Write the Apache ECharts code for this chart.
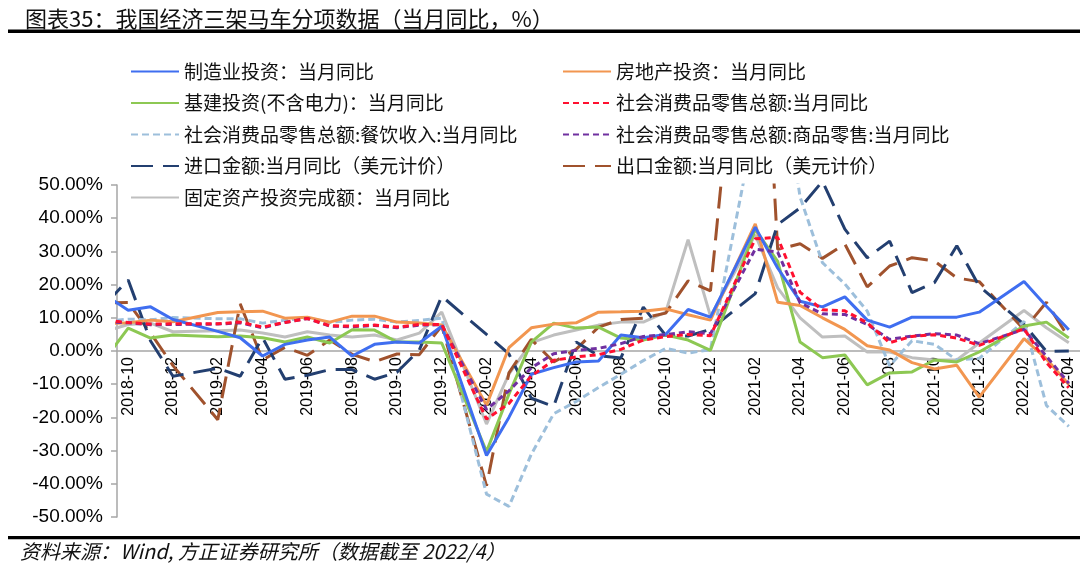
<!DOCTYPE html>
<html>
<head>
<meta charset="utf-8">
<title>我国经济三架马车分项数据</title>
<script src="https://cdn.jsdelivr.net/npm/echarts@6/dist/echarts.min.js"></script>
<style>
  html, body { margin: 0; padding: 0; background: #fff; }
  #chart { width: 1080px; height: 576px; }
</style>
</head>
<body>
<div id="chart"></div>
<script>
// first month (2018-09) sits left of the y axis and is only seen as a clipped stub
var months = ['2018-09', '2018-10', '2018-11', '2018-12',
  '2019-01', '2019-02', '2019-03', '2019-04', '2019-05', '2019-06', '2019-07', '2019-08', '2019-09', '2019-10', '2019-11', '2019-12',
  '2020-01', '2020-02', '2020-03', '2020-04', '2020-05', '2020-06', '2020-07', '2020-08', '2020-09', '2020-10', '2020-11', '2020-12',
  '2021-01', '2021-02', '2021-03', '2021-04', '2021-05', '2021-06', '2021-07', '2021-08', '2021-09', '2021-10', '2021-11', '2021-12',
  '2022-01', '2022-02', '2022-03', '2022-04'];

var manufacturing = [16.7, 12.3, 13.3, 9.5,
  null, 5.9, 4.0, -1.5, 2.0, 3.3, 4.2, -1.5, 2.0, 2.7, 2.4, 7.5,
  null, -31.5, -20.0, -7.0, -5.0, -3.3, -3.0, 4.8, 4.0, 5.0, 12.5, 10.2,
  null, 37.3, 25.0, 15.0, 13.3, 16.3, 9.3, 7.2, 10.2, 10.2, 10.2, 11.7,
  null, 20.9, 13.5, 6.4];
var realEstate = [8.3, 8.5, 9.3, 8.8,
  null, 11.6, 11.8, 12.0, 9.9, 10.2, 8.7, 10.5, 10.5, 8.7, 8.4, 7.8,
  null, -16.3, 1.0, 7.0, 8.1, 8.5, 11.7, 11.8, 12.0, 12.7, 10.9, 9.3,
  null, 38.3, 14.7, 13.7, 10.0, 6.5, 1.6, 0.3, -3.5, -5.4, -4.3, -13.9,
  null, 3.7, -2.4, -10.1];
var infra = [-2.1, 6.9, 3.9, 4.8,
  null, 4.3, 4.5, 4.0, 2.7, 4.2, 2.4, 6.4, 6.3, 2.7, 2.7, 2.4,
  null, -30.3, -13.0, 2.7, 8.4, 6.9, 7.2, 3.9, 3.3, 4.8, 3.3, 0.2,
  null, 36.6, 27.0, 2.7, -2.0, -1.2, -10.2, -6.6, -6.3, -2.7, -3.3, -0.3,
  null, 7.5, 8.7, 3.9];
var retailTotal = [9.2, 8.6, 8.1, 8.2,
  null, 8.2, 8.7, 7.2, 8.6, 9.8, 7.6, 7.5, 7.8, 7.2, 8.0, 8.0,
  null, -20.5, -15.8, -7.5, -2.8, -1.8, -1.1, 0.5, 3.3, 4.3, 5.0, 4.6,
  null, 33.8, 34.2, 17.7, 12.4, 12.1, 8.5, 2.5, 4.4, 4.9, 3.9, 1.7,
  null, 6.7, -3.5, -11.1];
var catering = [9.0, 9.6, 9.4, 10.1,
  null, 9.7, 9.7, 8.4, 9.3, 10.0, 8.6, 9.3, 9.6, 8.7, 9.2, 9.9,
  null, -43.1, -46.8, -31.1, -18.9, -15.2, -11.0, -7.0, -2.9, 0.8, -0.6, 0.4,
  null, 68.9, 91.6, 46.4, 26.6, 20.2, 12.0, -4.5, 3.1, 2.0, -2.7, -2.2,
  null, 8.9, -16.4, -22.7];
var retailGoods = [8.8, 8.5, 7.9, 8.0,
  null, 8.1, 8.5, 7.0, 8.6, 9.8, 7.5, 7.3, 7.7, 7.0, 7.8, 7.9,
  null, -17.6, -12.0, -5.1, -0.8, 0.2, 0.8, 2.2, 4.4, 4.9, 5.8, 5.2,
  null, 30.7, 29.8, 14.5, 11.2, 11.0, 8.0, 3.5, 4.5, 5.2, 4.8, 2.2,
  null, 6.5, -1.6, -9.7];
var imports = [14.3, 21.4, 3.0, -7.6,
  null, -5.2, -7.6, 4.0, -8.5, -7.3, -5.6, -5.6, -8.5, -6.4, 0.3, 16.5,
  null, 5.0, -0.9, -14.2, -16.7, 2.7, -1.4, -2.1, 13.2, 4.7, 4.5, 6.5,
  null, 17.3, 38.1, 43.1, 51.1, 36.7, 28.1, 33.1, 17.6, 20.6, 31.7, 19.5,
  null, 8.0, -0.1, 0.0];
var exports = [14.5, 14.6, 5.4, -4.4,
  null, -20.7, 14.2, -2.7, 1.1, -1.3, 3.3, -1.0, -3.2, -0.9, -1.1, 7.6,
  null, -40.6, -6.6, 3.5, -3.3, 0.5, 7.2, 9.5, 9.9, 11.4, 21.1, 18.1,
  null, 154.9, 30.6, 32.3, 27.9, 32.2, 19.3, 25.6, 28.1, 27.1, 22.0, 20.9,
  null, 6.5, 14.7, 3.9];
var fixedAsset = [6.0, 8.0, 8.4, 5.8,
  null, 6.1, 6.3, 5.4, 4.2, 5.8, 4.8, 4.2, 4.8, 3.3, 5.4, 11.7,
  null, -22.0, -7.0, 2.5, 4.8, 6.3, 7.8, 8.7, 8.7, 11.7, 33.5, 10.5,
  null, 35.0, 19.0, 10.0, 4.2, 4.5, -0.3, -0.3, -2.0, -2.7, -2.7, 2.4,
  null, 12.2, 7.0, 2.5];

var yTicks = [-50, -40, -30, -20, -10, 0, 10, 20, 30, 40, 50];

var names = {
  mfg: '制造业投资：当月同比',
  re: '房地产投资：当月同比',
  infra: '基建投资(不含电力)：当月同比',
  retail: '社会消费品零售总额:当月同比',
  cater: '社会消费品零售总额:餐饮收入:当月同比',
  goods: '社会消费品零售总额:商品零售:当月同比',
  imp: '进口金额:当月同比（美元计价）',
  exp: '出口金额:当月同比（美元计价）',
  fai: '固定资产投资完成额：当月同比'
};

function pts(arr) {
  return arr.map(function (v, i) { return [i, v]; });
}

function line(name, arr, color, dash, z) {
  return {
    name: name,
    type: 'line',
    xAxisIndex: 1,
    data: pts(arr),
    symbol: 'none',
    connectNulls: true,
    clip: true,
    z: z,
    lineStyle: { color: color, width: 3, type: dash || 'solid' },
    itemStyle: { color: color, opacity: 0 }
  };
}

var chart = echarts.init(document.getElementById('chart'), null, { renderer: 'canvas' });

var labelFont = '"Liberation Sans", Arial, sans-serif';
var cjkFont = '"Noto Sans CJK SC", sans-serif';
var axisGray = '#A6A6A6';

var gridTop = 185, gridHeight = 332;

var legendText = { fontSize: 19, color: '#111', fontFamily: cjkFont, lineHeight: 19 };

var option = {
  animation: false,
  backgroundColor: '#fff',
  title: {
    text: '图表35：我国经济三架马车分项数据（当月同比，%）',
    left: 20,
    top: 3,
    textStyle: { fontSize: 22, fontWeight: 'normal', color: '#111', fontFamily: cjkFont }
  },
  graphic: [
    { type: 'rect', shape: { x: 8, y: 29.5, width: 1072, height: 3.5 }, style: { fill: '#000' } },
    { type: 'rect', shape: { x: 8, y: 536, width: 1072, height: 3.3 }, style: { fill: '#000' } },
    {
      type: 'text', left: 20, top: 541,
      style: {
        text: '资料来源：Wind, 方正证券研究所（数据截至 2022/4）',
        fontSize: 20, fontStyle: 'italic', fill: '#111', fontFamily: cjkFont
      }
    }
  ],
  legend: [
    {
      orient: 'vertical', left: 125, top: 57,
      itemWidth: 48, itemHeight: 14, itemGap: 12.5,
      itemStyle: { opacity: 0 },
      textStyle: legendText,
      data: [names.mfg, names.infra, names.cater, names.imp, names.fai]
    },
    {
      orient: 'vertical', left: 557, top: 57,
      itemWidth: 48, itemHeight: 14, itemGap: 12.5,
      itemStyle: { opacity: 0 },
      textStyle: legendText,
      data: [names.re, names.retail, names.goods, names.exp]
    }
  ],
  grid: { left: 117, top: gridTop, width: 965, height: gridHeight, containLabel: false },
  xAxis: [
    {
      type: 'category',
      data: months.slice(1),
      boundaryGap: true,
      position: 'bottom',
      // lift the axis from the grid bottom up to the zero line
      offset: -gridHeight / 2,
      axisLine: { onZero: false, lineStyle: { color: axisGray, width: 1.5 } },
      axisTick: { interval: 1, length: 5, lineStyle: { color: axisGray, width: 1.5 } },
      axisLabel: {
        interval: 1, rotate: 90, fontSize: 16, color: '#000',
        fontFamily: labelFont, margin: 6
      },
      splitLine: { show: false }
    },
    {
      type: 'value',
      min: 0.5,
      max: months.length - 0.5,
      show: false
    }
  ],
  yAxis: {
    type: 'value',
    min: yTicks[0],
    max: yTicks[yTicks.length - 1],
    interval: 10,
    axisLine: { show: true, onZero: false, lineStyle: { color: axisGray, width: 1.5 } },
    axisTick: { show: true, length: 6, lineStyle: { color: axisGray, width: 1.5 } },
    splitLine: { show: false },
    axisLabel: {
      fontSize: 19, color: '#000', fontFamily: labelFont, margin: 14,
      formatter: function (v) { return v.toFixed(2) + '%'; }
    }
  },
  series: [
    line(names.fai, fixedAsset, '#BFBFBF', 'solid', 2),
    line(names.exp, exports, '#A0522D', [22, 10], 3),
    line(names.imp, imports, '#233F70', [22, 10], 3),
    line(names.cater, catering, '#9DBFDB', [7, 4], 4),
    line(names.infra, infra, '#8DC853', 'solid', 5),
    line(names.re, realEstate, '#F29650', 'solid', 6),
    line(names.mfg, manufacturing, '#3F6EF0', 'solid', 7),
    line(names.goods, retailGoods, '#7030A0', [6, 4], 8),
    line(names.retail, retailTotal, '#FF1030', [6, 4], 9)
  ]
};

chart.setOption(option);
</script>
</body>
</html>
